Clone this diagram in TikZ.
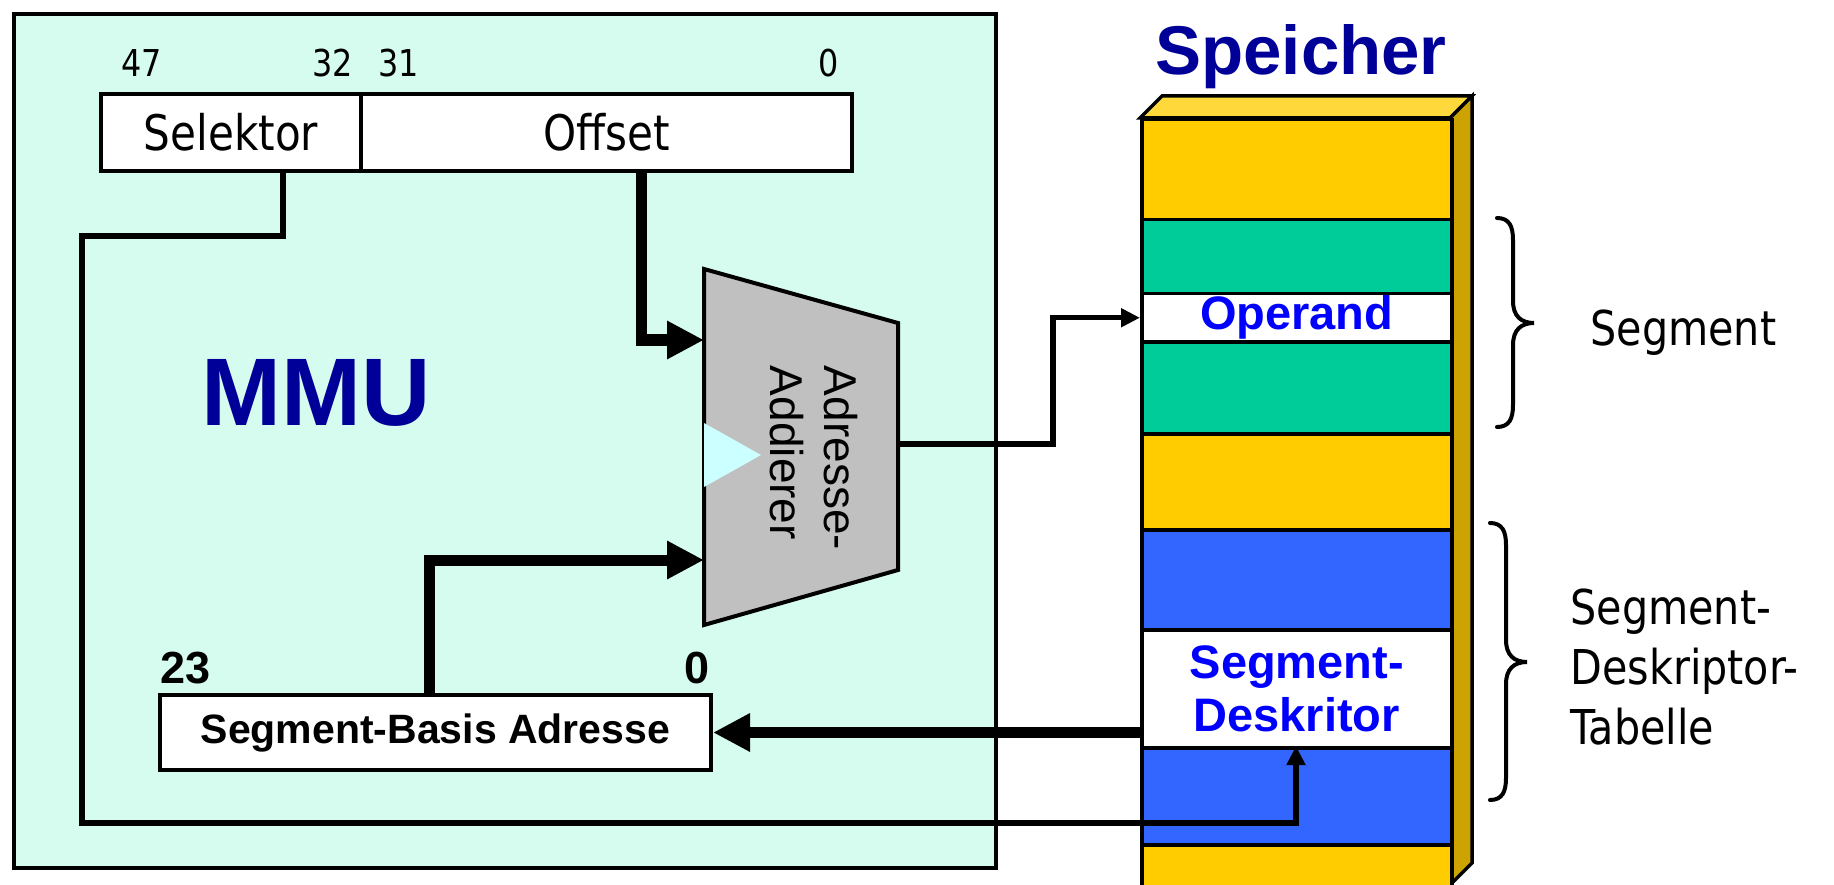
\documentclass[tikz,border=0pt]{standalone}
\usepackage{fontspec}
\setmainfont{Liberation Sans}
\newfontfamily\tahoma[FakeStretch=0.86]{DejaVu Sans}
\usetikzlibrary{arrows.meta}

\definecolor{mmufill}{RGB}{214,252,240}
\definecolor{navy}{RGB}{0,0,153}
\definecolor{labelblue}{RGB}{0,0,255}
\definecolor{memyellow}{RGB}{255,204,0}
\definecolor{memside}{RGB}{204,163,0}
\definecolor{memtop}{RGB}{255,216,60}
\definecolor{memgreen}{RGB}{0,204,153}
\definecolor{memblue}{RGB}{51,102,255}
\definecolor{addgrey}{RGB}{192,192,192}
\definecolor{addtri}{RGB}{204,255,255}

% curly brace: end x, top y, tip y, bottom y
\newcommand\membrace[4]{%
  \draw[bracestyle] (#1,#2) .. controls (#1+12,#2) and (#1+16,#2+8) .. (#1+16,#2+22)
    -- (#1+16,#3-22) .. controls (#1+16,#3-7) and (#1+24,#3) .. (#1+37,#3)
    .. controls (#1+24,#3) and (#1+16,#3+7) .. (#1+16,#3+22)
    -- (#1+16,#4-22) .. controls (#1+16,#4-8) and (#1+12,#4) .. (#1,#4);}

\begin{document}
\begin{tikzpicture}[x=1pt,y=-1pt,
  outline/.style={draw=black, line width=4pt},
  regfield/.style={outline, fill=white, inner sep=0pt, anchor=north west},
  bitnum/.style={font=\tahoma\fontsize{37}{37}\selectfont, anchor=base},
  boldnum/.style={font=\bfseries\fontsize{45}{45}\selectfont, anchor=base},
  band/.style={draw=black, line width=3.5pt, inner sep=0pt, anchor=north west, minimum width=310pt},
  bandtext/.style={font=\bfseries\fontsize{47}{53}\selectfont, text=labelblue, align=center},
  sidetext/.style={font=\tahoma\fontsize{48}{60}\selectfont, align=left},
  bigarrow/.style={line width=11pt, -{Triangle[length=37pt,width=36pt]}},
  wire/.style={line width=5.5pt, line join=miter},
  smallarrow/.style={wire, -{Triangle[length=19pt,width=18pt]}},
  bracestyle/.style={line width=4pt, line cap=round},
]
\useasboundingbox (0,0) rectangle (1834,885);
\clip (0,0) rectangle (1834,885);

% MMU housing
\node[outline, fill=mmufill, inner sep=0pt, anchor=north west,
      minimum width=982pt, minimum height=854pt] (mmu) at (12,12) {};
\node[font=\bfseries\fontsize{96}{96}\selectfont, text=navy, anchor=base] (mmulabel) at (316,425) {MMU};

% logical address register
\node[regfield, minimum width=260pt, minimum height=77pt,
      font=\tahoma\fontsize{49}{49}\selectfont] (sel) at (99,92) {Selektor};
\node[regfield, minimum width=491pt, minimum height=77pt,
      font=\tahoma\fontsize{49}{49}\selectfont] (off) at (359,92) {Offset};
\node[bitnum] (b47) at (142,77) {47};
\node[bitnum] (b32) at (333,77) {32};
\node[bitnum] (b31) at (399,77) {31};
\node[bitnum] (b0)  at (829,77) {0};

% address adder
\coordinate (aTL) at (704,269);
\coordinate (aTR) at (898,323);
\coordinate (aBR) at (898,570);
\coordinate (aBL) at (704,625);
\draw[outline, fill=addgrey, line join=miter] (aTL) -- (aTR) -- (aBR) -- (aBL) -- cycle;
\fill[addtri] (704,423) -- (761,455) -- (704,487) -- cycle;
\node[rotate=-90, font=\fontsize{46}{54}\selectfont, align=left] (addtext) at (814,458) {Adresse-\\Addierer};
\coordinate (addIn1) at (704,340);
\coordinate (addIn2) at (704,560);
\coordinate (addOut) at (898,444);

% segment base register
\node[regfield, minimum width=551pt, minimum height=75pt,
      font=\bfseries\fontsize{41}{41}\selectfont] (sba) at (158,693) {Segment-Basis Adresse};
\node[boldnum] (b23) at (186,683) {23};
\node[boldnum] (bz)  at (697,683) {0};

% memory column
\node[font=\bfseries\fontsize{69}{69}\selectfont, text=navy, anchor=base] (mem) at (1301,75) {Speicher};
\draw[line width=3.5pt, fill=memtop, line join=miter] (1140,118) -- (1162,96) -- (1472,96) -- (1450,118) -- cycle;
\draw[line width=3.5pt, fill=memside, line join=miter] (1450,118) -- (1472,96) -- (1472,863) -- (1450,885) -- cycle;
\node[band, fill=memyellow, minimum height=100pt] (m1) at (1140,118) {};
\node[band, fill=memgreen,  minimum height=74pt]  (m2) at (1140,218) {};
\node[band, fill=white, minimum height=48pt, bandtext] (op) at (1140,292) {Operand};
\node[band, fill=memgreen,  minimum height=92pt]  (m3) at (1140,340) {};
\node[band, fill=memyellow, minimum height=96pt]  (m4) at (1140,432) {};
\node[band, fill=memblue,   minimum height=100pt] (m5) at (1140,528) {};
\node[band, fill=white, minimum height=118pt, bandtext] (desk) at (1140,628) {Segment-\\Deskritor};
\node[band, fill=memblue,   minimum height=97pt]  (m6) at (1140,746) {};
\node[band, fill=memyellow, minimum height=60pt]  (m7) at (1140,843) {};

% braces and their labels
\membrace{1497}{218}{323}{427}
\node[sidetext, anchor=base west] (seglabel) at (1587,345) {Segment};
\membrace{1490}{523}{662}{800}
\node[sidetext, anchor=west] (tablabel) at (1567,667) {Segment-\\Deskriptor-\\Tabelle};

% data paths
\coordinate (offTap) at (641,169);
\coordinate (sbaTap) at (429,693);
\coordinate (selTap) at (283,169);
\coordinate (loopA) at (82,236);
\coordinate (loopB) at (82,823);
\coordinate (deskIn) at (1296,746);
\coordinate (outBend) at (1053,444);

\draw[bigarrow] (offTap) |- (addIn1);
\draw[bigarrow] (sbaTap) |- (addIn2);
\draw[bigarrow] (desk.west |- sba.east) -- (sba.east);
\draw[smallarrow] (addOut) -- (outBend) |- (op.west);
\draw[smallarrow] (selTap) |- (loopA) -- (loopB) -| (deskIn);
\end{tikzpicture}
\end{document}
